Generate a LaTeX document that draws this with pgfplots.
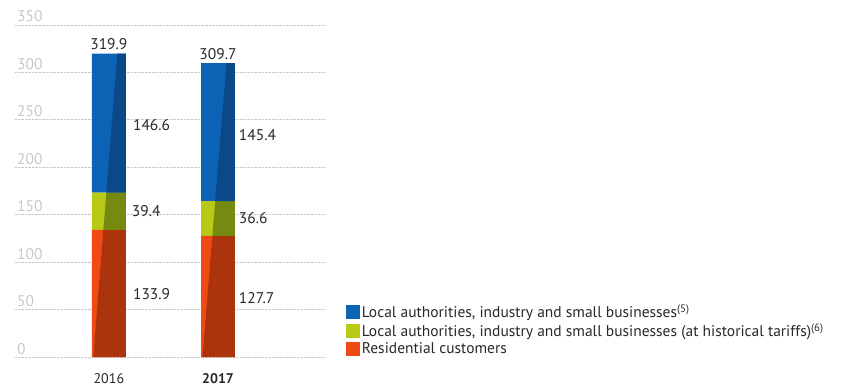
\documentclass[border=0pt]{standalone}
\usepackage{pgfplots}
\pgfplotsset{compat=1.18}
\usepackage{fontspec}
\setmainfont{PT Sans}
\definecolor{cblue}{RGB}{12,98,180}
\definecolor{cblueD}{RGB}{10,72,135}
\definecolor{cgreen}{RGB}{184,202,22}
\definecolor{cgreenD}{RGB}{118,138,16}
\definecolor{corange}{RGB}{238,74,22}
\definecolor{corangeD}{RGB}{172,52,12}
\definecolor{tickgray}{RGB}{200,200,200}
\definecolor{txt}{RGB}{40,40,40}
\pgfplotsset{
  common/.style={
    scale only axis, width=310bp, height=332bp, at={(15bp,31bp)}, anchor=south west,
    xmin=-0.86, xmax=1.98, ymin=0, ymax=350, clip=false,
  },
}
\tikzset{vlab/.style={text=txt, inner sep=0pt, font=\fontsize{15.5bp}{16bp}\selectfont}}
\begin{document}
\begin{tikzpicture}
\useasboundingbox (0,0) rectangle (851bp,388bp);
\begin{axis}[common, ybar stacked, bar width=0.31,
  axis line style={draw=none}, major tick style={draw=none},
  ymajorgrids, grid style={densely dotted, color=tickgray, line width=0.8pt},
  ytick={0,50,...,350},
  yticklabel style={anchor=base west, inner sep=0pt, xshift=2bp, yshift=3bp, text=tickgray, font=\fontsize{15.5bp}{16bp}\selectfont},
  xtick={0,1}, xticklabels={2016,\textbf{2017}},
  xticklabel style={anchor=north, inner sep=0pt, yshift=-16bp, text=txt, font=\fontsize{14bp}{16bp}\selectfont},
  /pgf/number format/assume math mode=true,
  reverse legend,
  legend style={draw=none, fill=none, at={(1.057,0.17)}, anchor=north west, legend cell align=left,
    font=\fontsize{15.5bp}{16bp}\selectfont, text=txt, row sep=0.5bp,
    nodes={inner xsep=2bp}},
  legend image code/.code={\fill[#1] (0bp,-7bp) rectangle (14bp,7bp);},
]
\addplot[fill=corange, draw=none] coordinates {(0,133.9) (1,127.7)};
\addlegendentry{Residential customers}
\addplot[fill=cgreen, draw=none] coordinates {(0,39.4) (1,36.6)};
\addlegendentry{Local authorities, industry and small businesses (at historical tariffs)\textsuperscript{(6)}}
\addplot[fill=cblue, draw=none] coordinates {(0,146.6) (1,145.4)};
\addlegendentry{Local authorities, industry and small businesses\textsuperscript{(5)}}
\end{axis}
\begin{axis}[common, hide axis]
\addplot[fill=corangeD, draw=none] coordinates {(-0.1426,0) (0.155,0) (0.155,133.9) (-0.0505,133.9)} -- cycle;
\addplot[fill=cgreenD, draw=none] coordinates {(-0.0505,133.9) (0.155,133.9) (0.155,173.3) (-0.0234,173.3)} -- cycle;
\addplot[fill=cblueD, draw=none] coordinates {(-0.0234,173.3) (0.155,173.3) (0.155,319.9) (0.0775,319.9)} -- cycle;
\addplot[fill=corangeD, draw=none] coordinates {(0.8574,0) (1.155,0) (1.155,127.7) (0.9482,127.7)} -- cycle;
\addplot[fill=cgreenD, draw=none] coordinates {(0.9482,127.7) (1.155,127.7) (1.155,164.3) (0.9742,164.3)} -- cycle;
\addplot[fill=cblueD, draw=none] coordinates {(0.9742,164.3) (1.155,164.3) (1.155,309.7) (1.0775,309.7)} -- cycle;
\node[vlab, anchor=base] at (axis cs:0,319.9) [yshift=4bp] {319.9};
\node[vlab, anchor=base] at (axis cs:1,309.7) [yshift=4bp] {309.7};
\node[vlab, anchor=west] at (axis cs:0.22,244) {146.6};
\node[vlab, anchor=west] at (axis cs:0.21,153.6) {39.4};
\node[vlab, anchor=west] at (axis cs:0.22,66) {133.9};
\node[vlab, anchor=west] at (axis cs:1.19,234) {145.4};
\node[vlab, anchor=west] at (axis cs:1.19,146) {36.6};
\node[vlab, anchor=west] at (axis cs:1.19,62) {127.7};
\end{axis}
\end{tikzpicture}
\end{document}
